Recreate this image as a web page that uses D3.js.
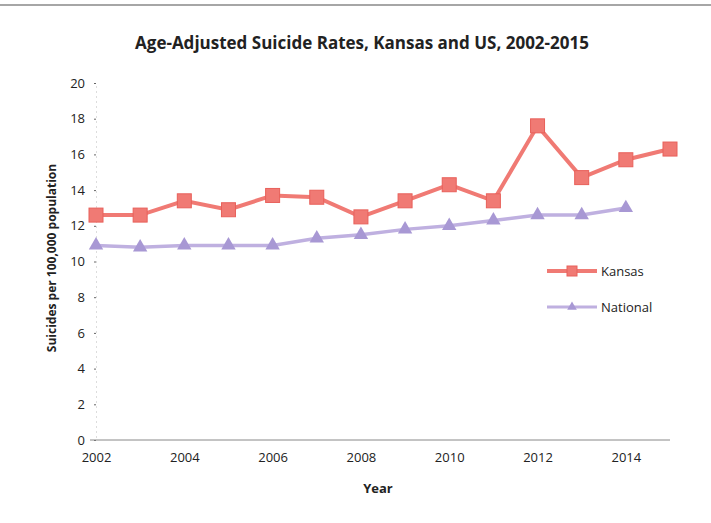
<!DOCTYPE html>
<html>
<head>
<meta charset="utf-8">
<script src="https://cdn.jsdelivr.net/npm/d3@7"></script>
<style>
  body { margin: 0; background: #fff; }
  text { font-family: "Open Sans", sans-serif; fill: #222; }
</style>
</head>
<body>
<div id="chart"></div>
<script>
var years = [2002, 2003, 2004, 2005, 2006, 2007, 2008, 2009, 2010, 2011, 2012, 2013, 2014, 2015];
var kansas = [12.6, 12.6, 13.4, 12.9, 13.7, 13.6, 12.5, 13.4, 14.3, 13.4, 17.6, 14.7, 15.7, 16.3];
var national = [10.9, 10.8, 10.9, 10.9, 10.9, 11.3, 11.5, 11.8, 12.0, 12.3, 12.6, 12.6, 13.0];
var xTicks = [2002, 2004, 2006, 2008, 2010, 2012, 2014];
var yTicks = [0, 2, 4, 6, 8, 10, 12, 14, 16, 18, 20];

var w = 711, h = 523;
var svg = d3.select("#chart").append("svg")
    .attr("width", w)
    .attr("height", h);

// top rule of the scanned page
svg.append("line")
    .attr("x1", 0).attr("x2", w).attr("y1", 5).attr("y2", 5)
    .style("stroke", "#888").style("stroke-width", 1.5);

svg.append("text")
    .attr("x", 362).attr("y", 49)
    .attr("text-anchor", "middle")
    .style("font-size", "17px").style("font-weight", "bold")
    .text("Age-Adjusted Suicide Rates, Kansas and US, 2002-2015");

var x = d3.scaleLinear().domain([2002, 2015]).range([96, 670]);
var y = d3.scaleLinear().domain([0, 20]).range([440, 83]);

// y axis
var yAxis = svg.append("g")
    .attr("transform", "translate(96,0)")
    .call(d3.axisLeft(y).tickValues(yTicks).tickSize(2).tickPadding(9));
yAxis.select(".domain").style("stroke", "#ddd").style("stroke-dasharray", "2,3");
yAxis.selectAll(".tick line").style("stroke", "#666");
yAxis.selectAll(".tick text").style("font-size", "13px").style("fill", "#222");

// x axis
var xAxis = svg.append("g")
    .attr("transform", "translate(0,440)")
    .call(d3.axisBottom(x).tickValues(xTicks).tickFormat(d3.format("d")).tickSize(0).tickPadding(13));
xAxis.select(".domain").attr("d", "M90,0H670").style("stroke", "#888");
xAxis.selectAll(".tick text").style("font-size", "13px").style("fill", "#222");

svg.append("text")
    .attr("x", 378).attr("y", 493)
    .attr("text-anchor", "middle")
    .style("font-size", "13px").style("font-weight", "bold")
    .text("Year");

svg.append("text")
    .attr("transform", "translate(56,258) rotate(-90)")
    .attr("text-anchor", "middle")
    .style("font-size", "12px").style("font-weight", "bold")
    .text("Suicides per 100,000 population");

var kColor = "#f07a74", kDark = "#e8605a";
var nColor = "#bfb0e0", nDark = "#a898d4";

var line = d3.line()
    .x(function(d, i) { return x(years[i]); })
    .y(function(d) { return y(d); });

// national
svg.append("path")
    .datum(national)
    .attr("d", line)
    .style("fill", "none").style("stroke", nColor).style("stroke-width", 3.5);
svg.selectAll(".tri")
    .data(national)
    .enter().append("path")
    .attr("class", "tri")
    .attr("transform", function(d, i) { return "translate(" + x(years[i]) + "," + y(d) + ")"; })
    .attr("d", d3.symbol().type(d3.symbolTriangle).size(90))
    .style("fill", nDark);

// kansas
svg.append("path")
    .datum(kansas)
    .attr("d", line)
    .style("fill", "none").style("stroke", kColor).style("stroke-width", 4);
svg.selectAll(".sq")
    .data(kansas)
    .enter().append("rect")
    .attr("class", "sq")
    .attr("x", function(d, i) { return x(years[i]) - 7; })
    .attr("y", function(d) { return y(d) - 7; })
    .attr("width", 14).attr("height", 14)
    .style("fill", kColor).style("stroke", kDark).style("stroke-width", 1);

// legend
var legend = [
  { name: "Kansas", color: kColor, mark: "sq", y: 271 },
  { name: "National", color: nColor, mark: "tri", y: 307 }
];
legend.forEach(function(l) {
  svg.append("line")
      .attr("x1", 547).attr("x2", 597).attr("y1", l.y).attr("y2", l.y)
      .style("stroke", l.color).style("stroke-width", l.mark == "sq" ? 4 : 3);
  if (l.mark == "sq") {
    svg.append("rect").attr("x", 567).attr("y", l.y - 5).attr("width", 10).attr("height", 10)
        .style("fill", kColor).style("stroke", kDark);
  } else {
    svg.append("path").attr("transform", "translate(572," + l.y + ")")
        .attr("d", d3.symbol().type(d3.symbolTriangle).size(40))
        .style("fill", nDark);
  }
  svg.append("text")
      .attr("x", 601).attr("y", l.y + 4.5)
      .style("font-size", "13px")
      .text(l.name);
});
</script>
</body>
</html>
